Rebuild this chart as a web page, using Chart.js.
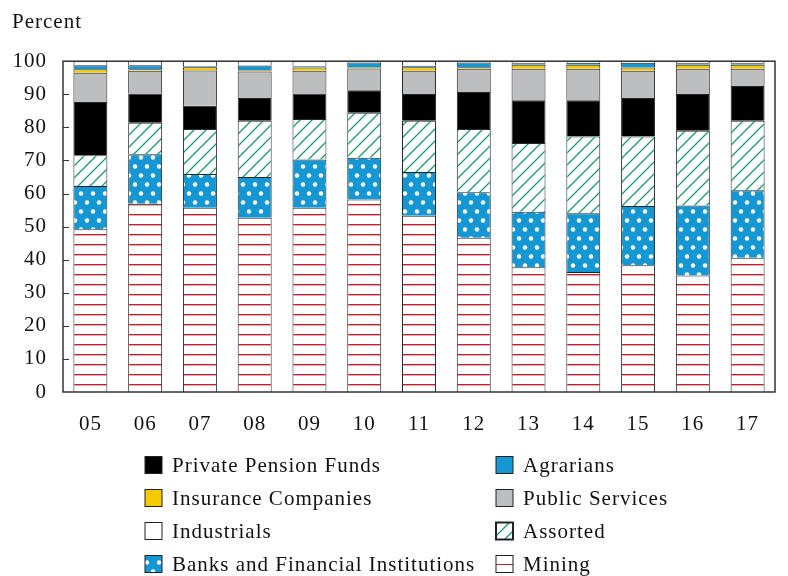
<!DOCTYPE html>
<html>
<head>
<meta charset="utf-8">
<script src="https://cdn.jsdelivr.net/npm/chart.js@4"></script>
<style>
  html, body { margin: 0; padding: 0; background: #fff; }
  #wrap { width: 788px; height: 576px; }
</style>
</head>
<body>
<div id="wrap"><canvas id="chart" width="788" height="576"></canvas></div>
<script>
// values, percent of total
const years = ["05", "06", "07", "08", "09", "10", "11", "12", "13", "14", "15", "16", "17"];
const mining = [49.2, 56.9, 55.7, 52.7, 55.7, 58.2, 53.3, 46.6, 37.7, 36.3, 38.3, 35.2, 40.6];
const banks = [13.1, 15.0, 10.2, 12.3, 14.6, 12.6, 13.2, 13.8, 16.8, 17.7, 17.9, 21.2, 20.4];
const assorted = [9.3, 9.5, 13.6, 17.0, 12.2, 13.6, 15.5, 19.1, 20.8, 23.2, 21.0, 22.6, 21.0];
const pension = [16.1, 8.8, 7.0, 6.9, 7.7, 6.8, 8.1, 11.2, 12.9, 11.0, 11.7, 11.1, 10.5];
const publicServices = [8.8, 6.9, 10.7, 8.0, 6.9, 6.6, 7.0, 7.0, 9.5, 9.5, 8.2, 7.6, 5.2];
const insurance = [1.1, 0.5, 1.0, 0.4, 1.0, 0.4, 1.1, 0.5, 1.2, 1.2, 1.0, 1.2, 1.2];
const agrarians = [1.2, 1.2, 0.3, 1.4, 0.4, 1.4, 0.4, 1.4, 0.5, 0.6, 1.4, 0.5, 0.5];
const industrials = [1.2, 1.2, 1.5, 1.3, 1.5, 0.4, 1.4, 0.4, 0.6, 0.5, 0.5, 0.6, 0.6];

// legend order, row by row (two columns)
const legendOrder = [
  "Private Pension Funds", "Agrarians",
  "Insurance Companies", "Public Services",
  "Industrials", "Assorted",
  "Banks and Financial Institutions", "Mining"
];

const FONT = "'Liberation Serif', 'DejaVu Serif', serif";
const canvas = document.getElementById("chart");
const ctx = canvas.getContext("2d");

function tile(w, h, draw) {
  const c = document.createElement("canvas");
  c.width = w;
  c.height = h;
  draw(c.getContext("2d"));
  return ctx.createPattern(c, "repeat");
}

// white with thin red horizontal lines
const miningFill = tile(10, 10, (g) => {
  g.fillStyle = "#fff";
  g.fillRect(0, 0, 10, 10);
  g.fillStyle = "#c41e2a";
  g.fillRect(0, 4, 10, 1);
  g.fillStyle = "#e6a9ad";
  g.fillRect(0, 5, 10, 1);
});

// blue with staggered white dots
const banksFill = tile(12, 18, (g) => {
  g.fillStyle = "#1597d3";
  g.fillRect(0, 0, 12, 18);
  g.fillStyle = "#fff";
  [[3, 4.5], [9, 13.5]].forEach(([x, y]) => {
    g.beginPath();
    g.arc(x, y, 2.2, 0, Math.PI * 2);
    g.fill();
  });
});

// white with green diagonal hatching
const assortedFill = tile(12, 12, (g) => {
  g.fillStyle = "#fff";
  g.fillRect(0, 0, 12, 12);
  g.strokeStyle = "#1b9a6b";
  g.lineWidth = 1.3;
  g.beginPath();
  g.moveTo(0, 12); g.lineTo(12, 0);
  g.moveTo(-3, 3); g.lineTo(3, -3);
  g.moveTo(9, 15); g.lineTo(15, 9);
  g.stroke();
});

const series = [
  { label: "Mining", data: mining, backgroundColor: miningFill },
  { label: "Banks and Financial Institutions", data: banks, backgroundColor: banksFill },
  { label: "Assorted", data: assorted, backgroundColor: assortedFill },
  { label: "Private Pension Funds", data: pension, backgroundColor: "#000000" },
  { label: "Public Services", data: publicServices, backgroundColor: "#bdbec0" },
  { label: "Insurance Companies", data: insurance, backgroundColor: "#f7c900" },
  { label: "Agrarians", data: agrarians, backgroundColor: "#1597d3" },
  { label: "Industrials", data: industrials, backgroundColor: "#ffffff" }
];

// the serif in the picture is wider than Liberation Serif
const spacingPlugin = {
  id: "spacing",
  beforeDraw(chart) {
    chart.ctx.letterSpacing = "1px";
  }
};

// frame round the plot and short inward ticks on the left axis
const framePlugin = {
  id: "frame",
  afterDatasetsDraw(chart) {
    const { ctx, chartArea: a, scales } = chart;
    ctx.save();
    ctx.strokeStyle = "#333";
    ctx.lineWidth = 1.5;
    ctx.strokeRect(a.left, a.top, a.right - a.left, a.bottom - a.top);
    ctx.beginPath();
    scales.y.ticks.forEach((t) => {
      if (t.value <= 0 || t.value >= 100) return;
      const y = Math.round(scales.y.getPixelForValue(t.value)) + 0.5;
      ctx.moveTo(a.left, y);
      ctx.lineTo(a.left + 6, y);
    });
    ctx.lineWidth = 1.2;
    ctx.stroke();
    ctx.restore();
  }
};

// two-column legend under the axis
const legendPlugin = {
  id: "gridLegend",
  afterDraw(chart) {
    const { ctx, chartArea: a } = chart;
    const x0 = a.left + 82;
    const colW = 351;
    const y0 = a.bottom + 73;
    const rowH = 33;
    const box = 17;
    ctx.save();
    ctx.font = "21px " + FONT;
    ctx.letterSpacing = "1px";
    ctx.textBaseline = "middle";
    legendOrder.forEach((name, i) => {
      const ds = chart.data.datasets.find((d) => d.label === name);
      const x = x0 + (i % 2) * colW;
      const y = y0 + Math.floor(i / 2) * rowH;
      const bx = x, by = y - box / 2;
      if (name === "Mining") {
        ctx.fillStyle = "#fff";
        ctx.fillRect(bx, by, box, box);
        ctx.fillStyle = "#c41e2a";
        ctx.fillRect(bx, Math.round(y), box, 1);
      } else {
        ctx.fillStyle = ds.backgroundColor;
        ctx.fillRect(bx, by, box, box);
      }
      ctx.strokeStyle = "#222";
      ctx.lineWidth = name === "Assorted" ? 2 : 1;
      ctx.strokeRect(bx, by, box, box);
      ctx.fillStyle = "#111";
      ctx.fillText(name, x + 27, y + 1);
    });
    ctx.restore();
  }
};

new Chart(ctx, {
  type: "bar",
  data: {
    labels: years,
    datasets: series.map((s) => ({
      ...s,
      borderColor: "#262626",
      borderWidth: 1,
      categoryPercentage: 0.62,
      barPercentage: 1
    }))
  },
  options: {
    responsive: false,
    animation: false,
    events: [],
    layout: { padding: { left: 12, right: 13, top: 0, bottom: 139 } },
    plugins: {
      legend: { display: false },
      tooltip: { enabled: false },
      title: {
        display: true,
        text: "Percent",
        align: "start",
        color: "#111",
        font: { family: FONT, size: 21, weight: "normal" },
        padding: { top: 10, bottom: 26 }
      }
    },
    scales: {
      x: {
        stacked: true,
        grid: { display: false, drawTicks: false },
        border: { display: false },
        ticks: { color: "#111", padding: 20, font: { family: FONT, size: 21 } },
        afterFit(scale) { scale.height = 45; }
      },
      y: {
        stacked: true,
        min: 0,
        max: 100,
        grid: { display: false, drawTicks: false },
        border: { display: false },
        ticks: { stepSize: 10, color: "#111", padding: 16, font: { family: FONT, size: 21 } },
        afterFit(scale) { scale.width = 51; }
      }
    }
  },
  plugins: [spacingPlugin, framePlugin, legendPlugin]
});
</script>
</body>
</html>
